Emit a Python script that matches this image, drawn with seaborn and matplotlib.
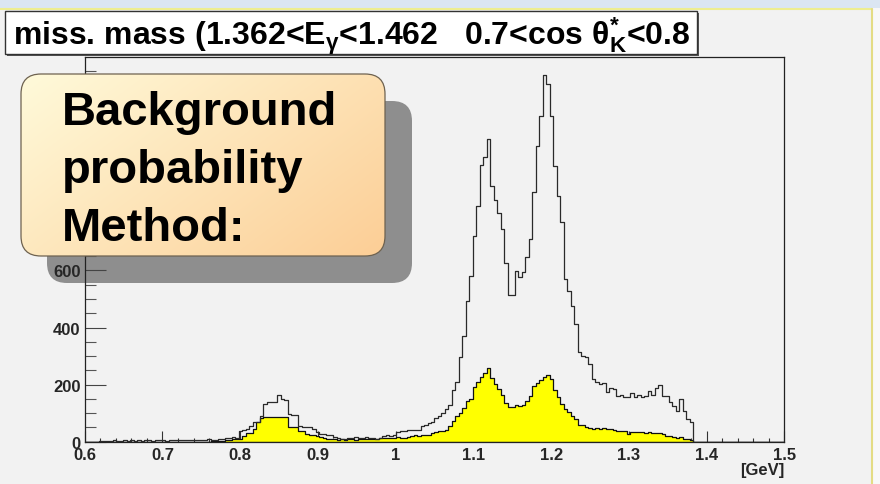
import numpy as np
import pandas as pd
import matplotlib
matplotlib.use("Agg")
import matplotlib.pyplot as plt
import seaborn as sns
from matplotlib.patches import FancyBboxPatch, Rectangle
from matplotlib.ticker import MultipleLocator
from matplotlib.lines import Line2D

# ---------------- data ----------------
bin_low, bin_high, n_bins = 0.6, 1.5, 200

total_counts = (
    [0, 0, 0, 0]
    + [2, 3, 4, 3, 5, 4, 3, 5, 4, 6, 4, 5, 3, 5, 6, 4, 5, 6, 5, 4, 6, 5, 7, 5, 6, 5, 7, 6, 5, 7, 6, 8, 7, 6]
    + [8, 9, 14, 13, 15, 14]
    + [38, 40, 45, 55, 68, 70, 90, 132, 138, 140, 138, 165, 148, 145, 97, 95, 92, 56, 52, 50, 52, 44, 33,
       26, 28, 24, 22, 18, 12, 10, 11, 12, 14, 16, 13, 13, 15, 12, 12, 10, 14, 20, 22, 20, 24, 35, 38, 36,
       40, 41, 42, 40, 56, 58, 66, 68, 82, 90, 100, 114, 130, 180, 210, 296, 371, 494, 581, 722, 827, 970,
       998, 1062, 897, 848, 803, 745, 627, 514, 514, 599, 576, 593, 648, 712, 874, 1037, 1142, 1284, 1253,
       1140, 965, 860, 771, 570, 529, 476, 412, 313, 301, 298, 272, 220, 210, 202, 206, 173, 188, 186, 161,
       163, 158, 156, 172, 158, 165, 158, 161, 176, 165, 188, 197, 161, 159, 138, 125, 109, 150, 109, 80, 68]
    + [0] * 26
)

background_counts = (
    [0] * 36
    + [2, 2, 3, 4, 5]
    + [6, 8, 9, 10, 20, 29, 29, 44, 68, 83, 86, 88, 88, 88, 88, 88, 88, 50, 50, 50, 38, 38, 27, 25, 22, 20,
       15, 13, 10, 8, 8, 6, 9, 7, 8, 10, 7, 9, 8, 10, 9, 11, 10, 12, 13, 12, 14, 13, 15, 13, 14, 16, 20, 22,
       21, 24, 23, 25, 32, 34, 36, 38, 42, 56, 74, 90, 100, 118, 144, 150, 190, 210, 228, 242, 260, 222, 202,
       185, 165, 135, 122, 120, 128, 125, 128, 144, 160, 195, 205, 215, 225, 234, 220, 180, 155, 132, 115,
       103, 91, 80, 58, 59, 52, 47, 45, 47, 46, 47, 43, 44, 42, 38, 39, 37, 27, 35, 34, 35, 33, 32, 33, 30,
       29, 30, 28, 19, 20, 18, 14, 16, 10, 9, 6]
    + [0] * 26
)

x_tick_values = [0.6, 0.7, 0.8, 0.9, 1.0, 1.1, 1.2, 1.3, 1.4, 1.5]
x_tick_labels = ["0.6", "0.7", "0.8", "0.9", "1", "1.1", "1.2", "1.3", "1.4", "1.5"]
# labels above 600 are hidden behind the text box in the reference
y_tick_values = [0, 200, 400, 600, 800, 1000, 1200]
y_tick_labels = ["0", "200", "400", "600", "", "", ""]

title_text = r"miss. mass (1.362<E$_{\gamma}$<1.462   0.7<cos $\theta^{*}_{K}$<0.8"
box_text = "Background\nprobability\nMethod:"
x_unit = "[GeV]"

edges = np.linspace(bin_low, bin_high, n_bins + 1)
centers = (edges[:-1] + edges[1:]) / 2
df = pd.DataFrame({"mass": centers,
                   "total": np.asarray(total_counts, dtype=float),
                   "background": np.asarray(background_counts, dtype=float)})

# ---------------- style ----------------
sns.set_theme(style="ticks")
plt.rcParams["font.family"] = ["Liberation Sans", "DejaVu Sans"]
plt.rcParams["font.weight"] = "bold"
plt.rcParams["mathtext.fontset"] = "custom"
plt.rcParams["mathtext.rm"] = "Liberation Sans:bold"
plt.rcParams["mathtext.it"] = "Liberation Sans:bold"
plt.rcParams["mathtext.bf"] = "Liberation Sans:bold"
plt.rcParams["mathtext.default"] = "rm"

W, H = 880, 485
fig_bg = "#f2f2f2"
fig = plt.figure(figsize=(W / 100, H / 100), dpi=100, facecolor=fig_bg)

# background layer (frame decorations + box shadow)
bg_ax = fig.add_axes([0, 0, 1, 1], zorder=0)
bg_ax.set_xlim(0, W)
bg_ax.set_ylim(H, 0)
bg_ax.axis("off")
bg_ax.add_patch(Rectangle((0, 0), W, 9, facecolor="#dbe6f2", edgecolor="none"))
bg_ax.add_patch(Rectangle((872, 9), 8, H - 9, facecolor="#f8f8f8", edgecolor="none"))
bg_ax.add_line(Line2D([0, 872], [9.5, 9.5], color="#eeee90", lw=1.5))
bg_ax.add_line(Line2D([871.5, 871.5], [9.5, H], color="#e4dc84", lw=1.5))
bg_ax.add_patch(FancyBboxPatch((47, 102), 365, 182, boxstyle="round,pad=0,rounding_size=20",
                               facecolor="#8e8e8e", edgecolor="none"))

# main axes
L, R, T, B = 84.7, 784.3, 58.3, 442.7
ax = fig.add_axes([L / W, 1 - B / H, (R - L) / W, (B - T) / H], zorder=1)
ax.set_facecolor("none")

sns.histplot(data=df, x="mass", weights="background", bins=n_bins, binrange=(bin_low, bin_high),
             element="step", fill=True, color="#ffff00", alpha=1, edgecolor="#111111",
             linewidth=0.9, ax=ax)
sns.histplot(data=df, x="mass", weights="total", bins=n_bins, binrange=(bin_low, bin_high),
             element="step", fill=False, color="#2a2a2a", linewidth=0.9, ax=ax)

ax.set_xlim(bin_low, bin_high)
ax.set_ylim(0, 1347)
ax.set_xticks(x_tick_values)
ax.set_xticklabels(x_tick_labels, fontsize=12, fontweight="bold")
ax.set_yticks(y_tick_values)
ax.set_yticklabels(y_tick_labels, fontsize=12, fontweight="bold")
ax.xaxis.set_minor_locator(MultipleLocator(0.02))
ax.yaxis.set_minor_locator(MultipleLocator(50))
ax.tick_params(axis="x", which="major", direction="in", length=8, width=0.8, color="#333333", pad=4)
ax.tick_params(axis="x", which="minor", direction="in", length=3, width=0.8, color="#333333")
ax.tick_params(axis="y", which="major", direction="in", length=15, width=0.8, color="#444444", pad=3)
ax.tick_params(axis="y", which="minor", direction="in", length=8, width=0.8, color="#555555")
for lbl in ax.get_yticklabels():
    if lbl.get_text() == "0":
        lbl.set_verticalalignment("center_baseline")
ax.set_ylabel("")
ax.set_xlabel(x_unit, fontsize=12, fontweight="bold", loc="right", labelpad=0)
for s in ax.spines.values():
    s.set_visible(True)
    s.set_color("#222222")
    s.set_linewidth(0.9)

# overlay layer (title box, text box)
ov = fig.add_axes([0, 0, 1, 1], zorder=2)
ov.set_xlim(0, W)
ov.set_ylim(H, 0)
ov.axis("off")
ov.patch.set_alpha(0)

ov.add_patch(Rectangle((7, 14), 692, 43, facecolor="#555555", edgecolor="none"))
ov.add_patch(Rectangle((5, 12), 692, 43, facecolor="white", edgecolor="#333333", lw=1.0))
ov.text(13, 45, title_text, fontsize=23, fontweight="bold", ha="left", va="baseline", color="black")

bx, by, bw, bh = 21, 75, 364, 182
box = FancyBboxPatch((bx, by), bw, bh, boxstyle="round,pad=0,rounding_size=20",
                     facecolor="none", edgecolor="#6e6250", lw=0.9, zorder=3)
ov.add_patch(box)
gx = np.linspace(0, 1, 200)
gy = np.linspace(0, 1, 100)
GX, GY = np.meshgrid(gx, gy)
t = (0.6 * GX + 0.4 * GY)[..., None]
c0 = np.array([255, 250, 218]) / 255
c1 = np.array([252, 206, 150]) / 255
grad = c0 * (1 - t) + c1 * t
im = ov.imshow(grad, extent=(bx, bx + bw, by + bh, by), origin="upper", aspect="auto", zorder=2,
               interpolation="bilinear")
im.set_clip_path(box)
ov.set_xlim(0, W)
ov.set_ylim(H, 0)

for i, line in enumerate(box_text.split("\n")):
    ov.text(62, 125 + 58 * i, line, fontsize=34, fontweight="bold", ha="left", va="baseline",
            color="black", zorder=4)

fig.savefig("out.png", dpi=100, facecolor=fig_bg)
